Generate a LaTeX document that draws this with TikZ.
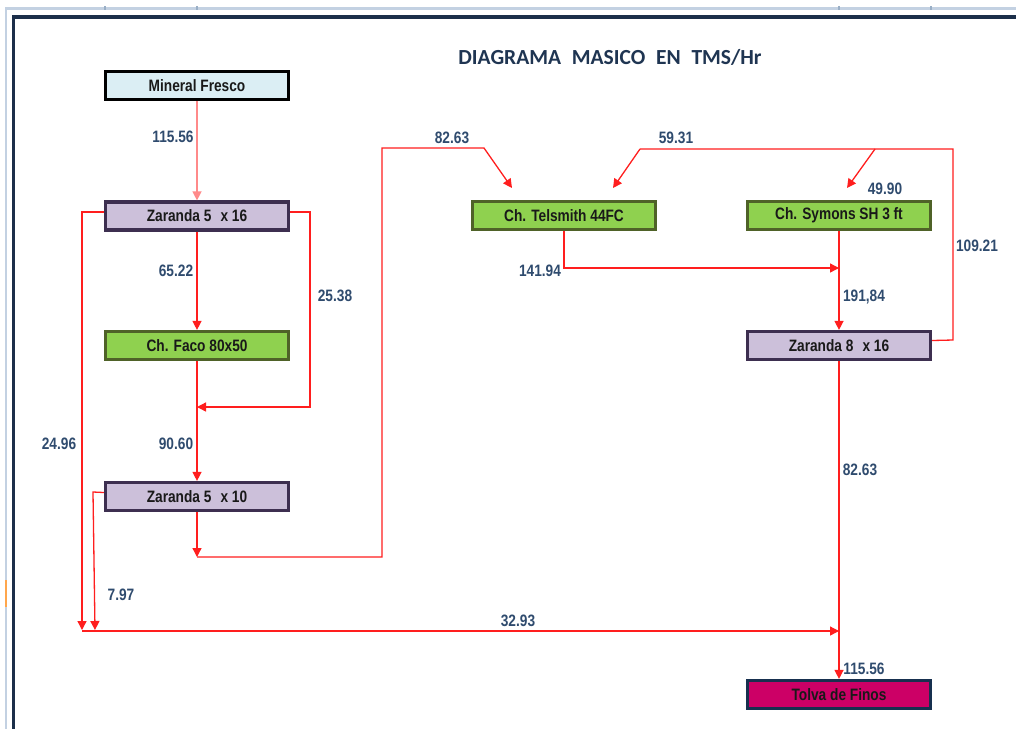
\documentclass[tikz,border=0pt]{standalone}
\usepackage{fontspec}
\usetikzlibrary{arrows.meta}
\newfontfamily\narrowsans{Liberation Sans}[FakeStretch=0.83]
\newfontfamily\titlefont{Carlito}
\definecolor{flowred}{HTML}{FF1E1E}
\definecolor{feedred}{HTML}{FF8A8A}
\definecolor{numblue}{HTML}{2F4B6E}
\definecolor{titleblue}{HTML}{1F3552}
\definecolor{sheetline}{HTML}{C3D1E2}
\definecolor{sheettick}{HTML}{9AAFC6}
\definecolor{navyframe}{HTML}{1C2F4A}
\definecolor{fillblue}{HTML}{DBEEF4}
\definecolor{fillpurple}{HTML}{CCC0DA}
\definecolor{edgepurple}{HTML}{3D2F50}
\definecolor{fillgreen}{HTML}{8FD14F}
\definecolor{edgegreen}{HTML}{4F6228}
\definecolor{fillmagenta}{HTML}{CC0066}
\definecolor{edgenavy}{HTML}{17304F}
\tikzset{
  unitbox/.style={draw, line width=3.2pt, minimum width=183pt, minimum height=28pt,
    inner sep=0pt, font=\narrowsans\bfseries\fontsize{16.5}{18}\selectfont, text=black!90},
  feedbox/.style={unitbox, fill=fillblue, draw=black},
  screenbox/.style={unitbox, fill=fillpurple, draw=edgepurple},
  crusherbox/.style={unitbox, fill=fillgreen, draw=edgegreen},
  binbox/.style={unitbox, fill=fillmagenta, draw=edgenavy},
  flow/.style={draw=flowred, line width=1.3pt, line join=miter},
  tip/.style={-{Triangle[length=9pt,width=9pt]}},
  lbl/.style={font=\narrowsans\bfseries\fontsize{16.5}{18}\selectfont, text=numblue, inner sep=0pt}
}
\begin{document}
\begin{tikzpicture}[x=1pt,y=-1pt]
\useasboundingbox (0,0) rectangle (1016,729);
\fill[white] (0,0) rectangle (1016,729);
% worksheet edges
\fill[sheetline] (5,7) rectangle (1016,10);
\fill[sheetline] (5,7) rectangle (7,729);
\foreach \cx in {105,197,839,931} \fill[sheettick] (\cx-0.6,6) rectangle (\cx+0.6,10);
\fill[orange!70] (4.5,580) rectangle (6.5,607);
\fill[navyframe] (12,15) rectangle (1016,19);
\fill[navyframe] (12,15) rectangle (15,729);

% title
\node[font=\titlefont\bfseries\fontsize{21.5}{24}\selectfont, text=titleblue] (title) at (610,57)
  {DIAGRAMA\hspace{0.5em}MASICO\hspace{0.5em}EN\hspace{0.5em}TMS/Hr};

% process units
\node[feedbox]    (mf)  at (197,85.5)  {Mineral Fresco};
\node[screenbox]  (z1)  at (197,216)   {Zaranda 5\hspace{0.55em}x 16};
\node[crusherbox] (fa)  at (197,345.5) {Ch. Faco 80x50};
\node[screenbox]  (z2)  at (197,496.5) {Zaranda 5\hspace{0.55em}x 10};
\node[crusherbox] (te)  at (564,215.5) {Ch. Telsmith 44FC};
\node[crusherbox] (sy)  at (839,215.5) {Ch. Symons SH 3 ft};
\node[screenbox]  (z3)  at (839,345.5) {Zaranda 8\hspace{0.55em}x 16};
\node[binbox]     (tf)  at (839,694.5) {Tolva de Finos};

% junctions and bends
\coordinate (j1) at (197,407);
\coordinate (r1) at (310,212);
\coordinate (l1) at (82,212);
\coordinate (l2) at (82,631);
\coordinate (k1) at (93,492);
\coordinate (k2) at (95,631);
\coordinate (m1) at (839,631);
\coordinate (d1) at (197,557);
\coordinate (d2) at (382,557);
\coordinate (d3) at (382,148);
\coordinate (d4) at (484,148);
\coordinate (t1) at (512,188);
\coordinate (m2) at (839,268);
\coordinate (e1) at (953,340);
\coordinate (e2) at (953,149);
\coordinate (e3) at (640,149);
\coordinate (e4) at (613,188);
\coordinate (e5) at (875,149);
\coordinate (e6) at (847,188);

% connectors
\draw[flow, draw=feedred, tip] (mf.south) -- (z1.north);
\draw[flow, tip] (z1.south) -- (fa.north);
\draw[flow, tip] ([yshift=4pt]z1.east) -- (r1) |- (j1);
\draw[flow, tip] (fa.south) -- (z2.north);
\draw[flow, tip] ([yshift=4pt]z1.west) -- (l1) -- ([yshift=1pt]l2);
\draw[flow, tip] ([yshift=4pt]z2.west) -- (k1) -- ([yshift=1pt]k2);
\draw[flow, tip] (l2) -- (m1);
\draw[flow, tip] (z2.south) -- (d1);
\draw[flow, tip] (d1) -- (d2) -- (d3) -- (d4) -- (t1);
\draw[flow, tip] (te.south) |- (m2);
\draw[flow, tip] (sy.south) -- (z3.north);
\draw[flow] ([yshift=5pt]z3.east) -- (e1) -- (e2) -- (e3);
\draw[flow, tip] (e3) -- (e4);
\draw[flow, tip] (e5) -- (e6);
\draw[flow, tip] (z3.south) -- (tf.north);

% mass flow labels (TMS/Hr)
\node[lbl] (n1)  at (173,137) {115.56};
\node[lbl] (n2)  at (176,271) {65.22};
\node[lbl] (n3)  at (335,296) {25.38};
\node[lbl] (n4)  at (176,444) {90.60};
\node[lbl] (n5)  at (59,444)  {24.96};
\node[lbl] (n6)  at (121,595) {7.97};
\node[lbl] (n7)  at (452,138) {82.63};
\node[lbl] (n8)  at (540,271) {141.94};
\node[lbl] (n9)  at (676,138) {59.31};
\node[lbl] (n10) at (885,189) {49.90};
\node[lbl] (n11) at (977,246) {109.21};
\node[lbl] (n12) at (864,297) {191,84};
\node[lbl] (n13) at (860,470) {82.63};
\node[lbl] (n14) at (518,621) {32.93};
\node[lbl] (n15) at (864,669) {115.56};
\end{tikzpicture}
\end{document}
